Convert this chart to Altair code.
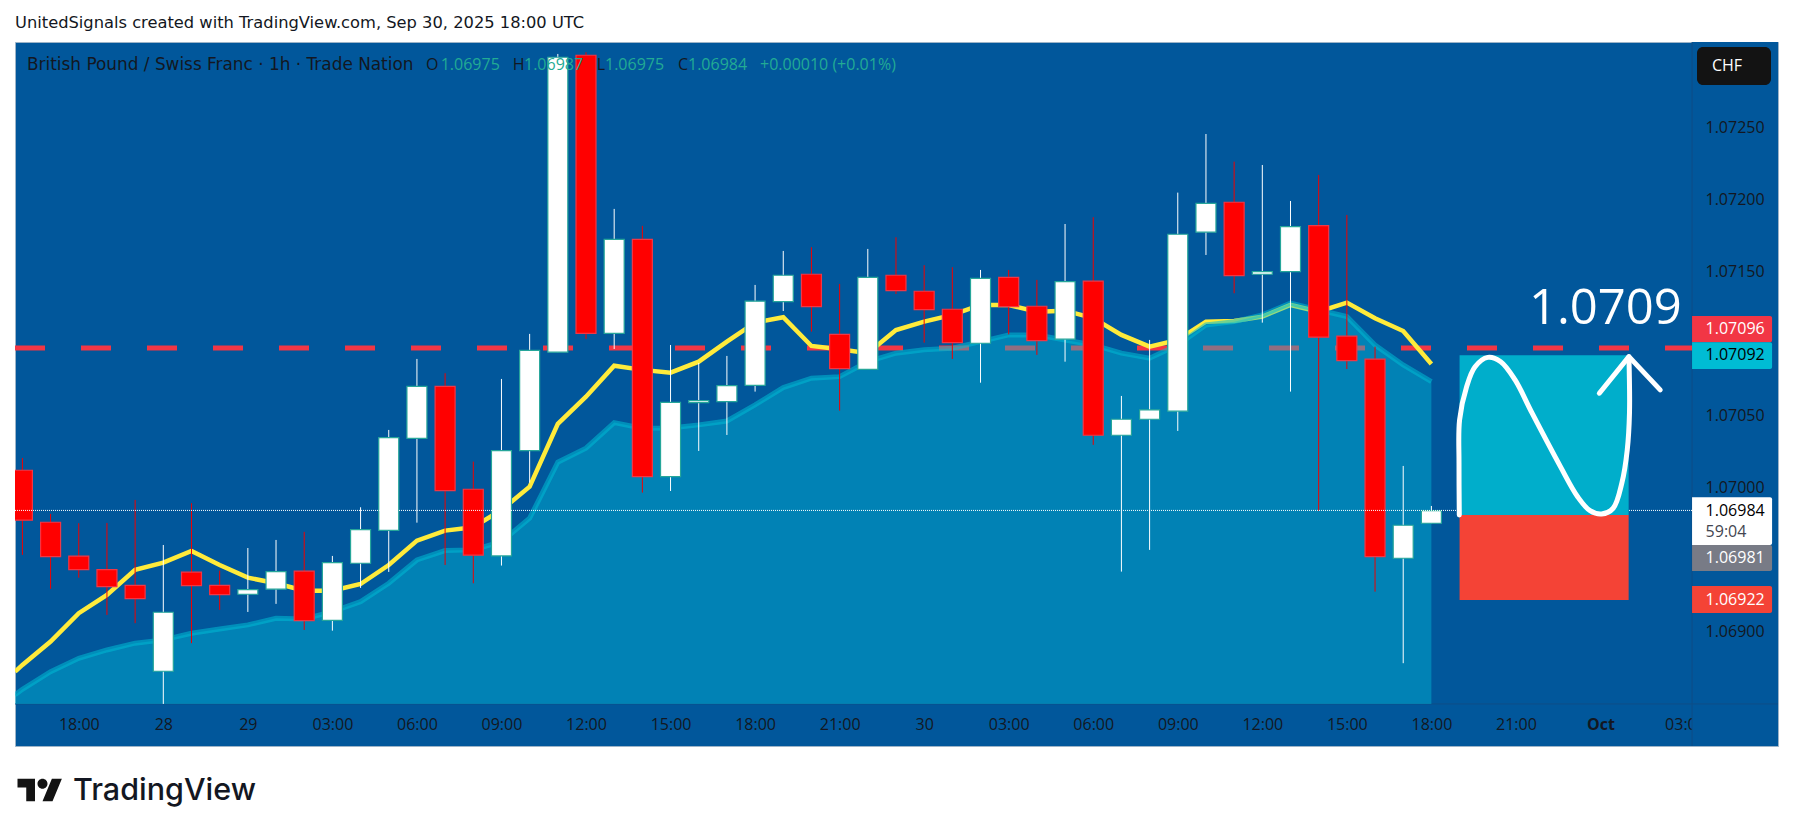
import altair as alt
import pandas as pd

FONT = "Open Sans"
TEXT_FONT = "DejaVu Sans"

# candles, one per hour
opens = [1.070121, 1.069760, 1.069524, 1.069431, 1.069322, 1.068725, 1.069413, 1.069322, 1.069260, 1.069295,
         1.069420, 1.069079, 1.069475, 1.069704, 1.070343, 1.070704, 1.069989, 1.069526, 1.070257, 1.070941,
         1.073003, 1.071072, 1.071725, 1.070077, 1.070590, 1.070597, 1.070711, 1.071292, 1.071482, 1.071065,
         1.070822, 1.071475, 1.071364, 1.071239, 1.071003, 1.071461, 1.071260, 1.071031, 1.071434, 1.070364,
         1.070475, 1.070531, 1.071774, 1.071982, 1.071482, 1.071500, 1.071820, 1.071052, 1.070892, 1.069510,
         1.069753]
highs = [1.070206, 1.069818, 1.069753, 1.069755, 1.069915, 1.069602, 1.069892, 1.069424, 1.069581, 1.069637,
         1.069693, 1.069526, 1.069864, 1.070401, 1.070894, 1.070795, 1.070181, 1.070755, 1.071068, 1.073012,
         1.073024, 1.071936, 1.071818, 1.070991, 1.070866, 1.070915, 1.071408, 1.071644, 1.071670, 1.071415,
         1.071658, 1.071739, 1.071545, 1.071531, 1.071512, 1.071512, 1.071443, 1.071831, 1.071878, 1.070637,
         1.071026, 1.072049, 1.072456, 1.072264, 1.072241, 1.071991, 1.072172, 1.071894, 1.070979, 1.070151,
         1.069873]
lows = [1.069533, 1.069297, 1.069375, 1.069116, 1.069059, 1.068498, 1.068920, 1.069151, 1.069137, 1.069193,
        1.069012, 1.069007, 1.069304, 1.069415, 1.069757, 1.069463, 1.069336, 1.069459, 1.070035, 1.070941,
        1.071033, 1.070963, 1.069966, 1.069977, 1.070255, 1.070366, 1.070667, 1.071227, 1.071084, 1.070535,
        1.070822, 1.071345, 1.071007, 1.070894, 1.070729, 1.071065, 1.070922, 1.070875, 1.070297, 1.069417,
        1.069568, 1.070394, 1.071616, 1.071350, 1.071146, 1.070667, 1.069840, 1.070824, 1.069278, 1.068781,
        1.069753]
closes = [1.069774, 1.069521, 1.069431, 1.069313, 1.069229, 1.069135, 1.069320, 1.069257, 1.069292, 1.069417,
          1.069077, 1.069479, 1.069709, 1.070347, 1.070704, 1.069979, 1.069531, 1.070257, 1.070954, 1.072989,
          1.071072, 1.071725, 1.070077, 1.070593, 1.070604, 1.070709, 1.071295, 1.071475, 1.071257, 1.070827,
          1.071461, 1.071368, 1.071236, 1.071007, 1.071454, 1.071257, 1.071021, 1.071431, 1.070364, 1.070475,
          1.070540, 1.071760, 1.071975, 1.071472, 1.071500, 1.071813, 1.071045, 1.070882, 1.069521, 1.069739,
          1.069841]
bars = list(range(len(opens)))

# moving averages, first point sits on the left edge of the pane
ma_bars = [-0.26] + bars
yellow_ma = [1.068722, 1.068769, 1.068931, 1.069128, 1.069255, 1.069429, 1.069479, 1.069561, 1.069463, 1.069375,
             1.069336, 1.069285, 1.069285, 1.069331, 1.069463, 1.069632, 1.069702, 1.069725, 1.069845, 1.070007,
             1.070443, 1.070632, 1.070847, 1.070818, 1.070799, 1.070875, 1.071014, 1.071146, 1.071184, 1.070984,
             1.070961, 1.070934, 1.071095, 1.071153, 1.071200, 1.071269, 1.071269, 1.071222, 1.071229, 1.071177,
             1.071061, 1.070979, 1.071026, 1.071153, 1.071158, 1.071188, 1.071269, 1.071222, 1.071285, 1.071177,
             1.071088, 1.070859]
blue_ma = [1.068561, 1.068600, 1.068722, 1.068815, 1.068873, 1.068920, 1.068943, 1.068989, 1.069019, 1.069047,
           1.069093, 1.069088, 1.069139, 1.069208, 1.069336, 1.069498, 1.069563, 1.069568, 1.069625, 1.069788,
           1.070177, 1.070274, 1.070452, 1.070413, 1.070415, 1.070436, 1.070463, 1.070575, 1.070695, 1.070760,
           1.070771, 1.070875, 1.070934, 1.070957, 1.070968, 1.071014, 1.071061, 1.071061, 1.071026, 1.070991,
           1.070934, 1.070899, 1.070991, 1.071130, 1.071153, 1.071200, 1.071281, 1.071234, 1.071188, 1.070991,
           1.070852, 1.070736]

# hand drawn path over the long position
curve_bars = [50.99, 50.98, 51.0, 51.25, 51.55, 52.0, 52.46, 52.97, 53.57, 54.58, 55.19, 55.63,
              56.04, 56.45, 56.76, 56.95, 57.03, 57.01]
curve_prices = [1.069810, 1.070171, 1.070470, 1.070701, 1.070840, 1.070905, 1.070875, 1.070748, 1.070519,
                1.070146, 1.069937, 1.069840, 1.069817, 1.069857, 1.070033, 1.070262, 1.070519, 1.070910]
arrow_bars = [55.96, 57.01, 58.12]
arrow_prices = [1.070656, 1.070910, 1.070679]

tick_bars = [2, 5, 8, 11, 14, 17, 20, 23, 26, 29, 32, 35, 38, 41, 44, 47, 50, 53, 56, 59]
tick_labels = ["18:00", "28", "29", "03:00", "06:00", "09:00", "12:00", "15:00", "18:00", "21:00", "30", "03:00",
               "06:00", "09:00", "12:00", "15:00", "18:00", "21:00", "Oct", "03:00"]
price_ticks = [1.069, 1.07, 1.0705, 1.0715, 1.072, 1.0725]

entry_bar, exit_bar = 51, 57
target, entry, stop = 1.07092, 1.06981, 1.06922
line_price = 1.07097
last_price = 1.069842

tag_top = [1.071192, 1.071010, 1.069933, 1.069602, 1.069318]
tag_bottom = [1.071010, 1.070824, 1.069602, 1.069422, 1.069130]
tag_fill = ["#f23645", "#00bcd4", "#ffffff", "#787b86", "#f44336"]
tag_texts = ["1.07096", "1.07092", "1.06984", "59:04", "1.06981", "1.06922"]
tag_text_y = [1.071102, 1.070918, 1.069841, 1.069695, 1.069512, 1.069222]
tag_text_color = ["#ffffff", "#000000", "#000000", "#434651", "#ffffff", "#ffffff"]

X_MIN, X_MAX = -0.263, 62.30
PANE_RIGHT = 59.25
TAG_RIGHT = 62.09
Y_MIN, Y_MAX = 1.068206, 1.073095
PANE_BOTTOM = 1.068498

x_scale = alt.Scale(domain=[X_MIN, X_MAX], nice=False, zero=False, padding=0)
y_scale = alt.Scale(domain=[Y_MIN, Y_MAX], nice=False, zero=False)

x_axis = alt.Axis(
    values=tick_bars,
    labelExpr="%s[(datum.value - 2) / 3]" % str(tick_labels),
    orient="bottom", offset=-42, domain=False, ticks=False, grid=False, title=None, labelAngle=0,
    labelPadding=12, labelFont=FONT, labelFontSize=16, labelColor="#131722", labelOverlap=False, zindex=0,
    labelFontWeight=alt.condition("datum.value == 56", alt.value("bold"), alt.value("normal")),
)
y_axis = alt.Axis(
    values=price_ticks, format=".5f",
    orient="right", offset=-86, domain=False, ticks=False, grid=False, title=None,
    labelPadding=13, labelFont=FONT, labelFontSize=16, labelColor="#131722",
    labelOverlap=False, zindex=1,
)


def X(field):
    return alt.X(field, type="quantitative", scale=x_scale, axis=x_axis)


def Y(field):
    return alt.Y(field, type="quantitative", scale=y_scale, axis=y_axis)


candles = pd.DataFrame({"bar": bars, "open": opens, "high": highs, "low": lows, "close": closes})
candles["top"] = candles[["open", "close"]].max(axis=1)
candles["bottom"] = candles[["open", "close"]].min(axis=1)
mas = pd.DataFrame({"bar": ma_bars, "yellow": yellow_ma, "blue": blue_ma, "floor": PANE_BOTTOM})

is_up = "datum.close >= datum.open"

# price column sits over the time labels so the last one gets cut off
price_col = alt.Chart(pd.DataFrame({"x": [PANE_RIGHT], "x2": [X_MAX], "y": [Y_MIN], "y2": [Y_MAX]})).mark_rect(
    fill="#01579b").encode(x=X("x"), x2="x2", y=Y("y"), y2="y2")

sep_h = alt.Chart(pd.DataFrame({"x": [X_MIN], "x2": [X_MAX], "y": [PANE_BOTTOM]})).mark_rule(
    color="#0f4e86", strokeWidth=1).encode(x=X("x"), x2="x2", y=Y("y"))
sep_v = alt.Chart(pd.DataFrame({"x": [PANE_RIGHT], "y": [Y_MIN], "y2": [Y_MAX]})).mark_rule(
    color="#0f4e86", strokeWidth=1).encode(x=X("x"), y=Y("y"), y2="y2")

level = pd.DataFrame({"bar": [X_MIN, PANE_RIGHT], "price": [line_price, line_price]})
red_dash = alt.Chart(level).mark_line(color="#f23645", strokeWidth=5, strokeDash=[30, 36]).encode(
    x=X("bar"), y=Y("price"))

yellow = alt.Chart(mas).mark_line(color="#ffeb3b", strokeWidth=4.5, clip=True).encode(x=X("bar"), y=Y("yellow"))

area = alt.Chart(mas).mark_area(color="#02c3dc", opacity=0.4, clip=True).encode(
    x=X("bar"), y=Y("blue"), y2="floor")
area_line = alt.Chart(mas).mark_line(color="#00bcd4", strokeWidth=5, opacity=0.55, clip=True).encode(
    x=X("bar"), y=Y("blue"))

wicks = alt.Chart(candles).mark_rule(strokeWidth=1, clip=True).encode(
    x=X("bar"), y=Y("high"), y2="low",
    color=alt.condition(is_up, alt.value("#ffffff"), alt.value("#f00000")),
)
bodies = alt.Chart(candles).mark_bar(size=20, strokeWidth=1.2, clip=True, orient="vertical").encode(
    x=X("bar"), y=Y("top"), y2="bottom",
    fill=alt.condition(is_up, alt.value("#ffffff"), alt.value("#ff0000")),
    stroke=alt.condition(is_up, alt.value("#26a69a"), alt.value("#f23645")),
)

dotted = alt.Chart(pd.DataFrame({"bar": [X_MIN, PANE_RIGHT], "price": [last_price, last_price]})).mark_line(
    color="#ffffff", strokeWidth=1, strokeDash=[1, 1]).encode(x=X("bar"), y=Y("price"))

profit = alt.Chart(pd.DataFrame({"x": [entry_bar], "x2": [exit_bar], "y": [target], "y2": [entry]})).mark_rect(
    fill="#00aecb").encode(x=X("x"), x2="x2", y=Y("y"), y2="y2")
loss = alt.Chart(pd.DataFrame({"x": [entry_bar], "x2": [exit_bar], "y": [entry], "y2": [stop]})).mark_rect(
    fill="#f44336").encode(x=X("x"), x2="x2", y=Y("y"), y2="y2")

path = pd.DataFrame({"bar": curve_bars, "price": curve_prices, "n": range(len(curve_bars))})
curve = alt.Chart(path).mark_line(color="#ffffff", strokeWidth=5, strokeCap="round", interpolate="catmull-rom").encode(
    x=X("bar"), y=Y("price"), order="n:Q")
arrow_df = pd.DataFrame({"bar": arrow_bars, "price": arrow_prices, "n": range(len(arrow_bars))})
arrow = alt.Chart(arrow_df).mark_line(color="#ffffff", strokeWidth=5, strokeCap="round", strokeJoin="round").encode(
    x=X("bar"), y=Y("price"), order="n:Q")

big_label = alt.Chart(pd.DataFrame({"bar": [53.46], "price": [1.071241], "t": ["1.0709"]})).mark_text(
    align="left", baseline="middle", font=FONT, fontSize=49, color="#ffffff").encode(
    x=X("bar"), y=Y("price"), text="t:N")

tags = alt.Chart(pd.DataFrame({"top": tag_top, "bottom": tag_bottom, "fill": tag_fill, "x": PANE_RIGHT, "x2": TAG_RIGHT})).mark_rect(
    cornerRadiusTopRight=2, cornerRadiusBottomRight=2).encode(
    x=X("x"), x2="x2", y=Y("top"), y2="bottom", fill=alt.Fill("fill:N", scale=None))
tag_labels = alt.Chart(pd.DataFrame({"t": tag_texts, "price": tag_text_y, "c": tag_text_color, "x": 59.73})).mark_text(
    align="left", baseline="middle", font=FONT, fontSize=16).encode(
    x=X("x"), y=Y("price"), text="t:N", color=alt.Color("c:N", scale=None))

# things that sit on the page rather than on the scales
badge = alt.Chart(pd.DataFrame({"a": [0]})).mark_rect(fill="#131313", cornerRadius=6).encode(
    x=alt.value(1682), x2=alt.value(1756), y=alt.value(5), y2=alt.value(43))
badge_text = alt.Chart(pd.DataFrame({"t": ["CHF"]})).mark_text(
    align="center", baseline="middle", font=FONT, fontSize=16, color="#ffffff").encode(
    x=alt.value(1712), y=alt.value(24), text="t:N")


def label(text, x, y, size=16, color="#131722", font=FONT, weight="normal"):
    return alt.Chart(pd.DataFrame({"t": [text]})).mark_text(
        align="left", baseline="middle", font=font, fontSize=size, color=color, fontWeight=weight).encode(
        x=alt.value(x), y=alt.value(y), text="t:N")


TEAL = "#22ab94"
HEAD_Y = 23
header = [
    label("UnitedSignals created with TradingView.com, Sep 30, 2025 18:00 UTC", 0, -19, size=16.3, font=TEXT_FONT),
    label("British Pound / Swiss Franc · 1h · Trade Nation", 12, HEAD_Y, size=16.9, font=TEXT_FONT),
    label("O", 411, HEAD_Y), label("1.06975", 425.7, HEAD_Y, color=TEAL),
    label("H", 497.7, HEAD_Y), label("1.06987", 509, HEAD_Y, color=TEAL),
    label("L", 581.7, HEAD_Y), label("1.06975", 590, HEAD_Y, color=TEAL),
    label("C", 663, HEAD_Y), label("1.06984", 673, HEAD_Y, color=TEAL),
    label("+0.00010 (+0.01%)", 745, HEAD_Y, color=TEAL),
    label("TradingView", 58, 749, size=30.5, font="Inter", weight=500),
]

logo = alt.Chart(pd.DataFrame({"a": [0]})).mark_point(
    shape="M-4 9H-11V-2H-18V-9H-4Z M10 9H2L9.5 -9H17.5L10 9Z M6 -5A4 4 0 1 1 -2 -5A4 4 0 1 1 6 -5Z",
    size=6.25, filled=True, fill="#131313", opacity=1, strokeWidth=0).encode(
    x=alt.value(25), y=alt.value(748))

chart = alt.layer(
    price_col, sep_h, sep_v, red_dash, yellow, area, area_line, wicks, bodies, dotted,
    profit, loss, curve, arrow, big_label, tags, tag_labels, badge, badge_text, *header, logo,
).properties(
    width=1763, height=704,
    autosize=alt.AutoSizeParams(type="none"),
    padding={"left": 7, "top": 34, "right": 5, "bottom": 70},
).configure_view(fill="#01579b", stroke="#9db4c8", strokeWidth=1)

chart.save("out.html", embed_options={"renderer": "svg", "actions": False})
